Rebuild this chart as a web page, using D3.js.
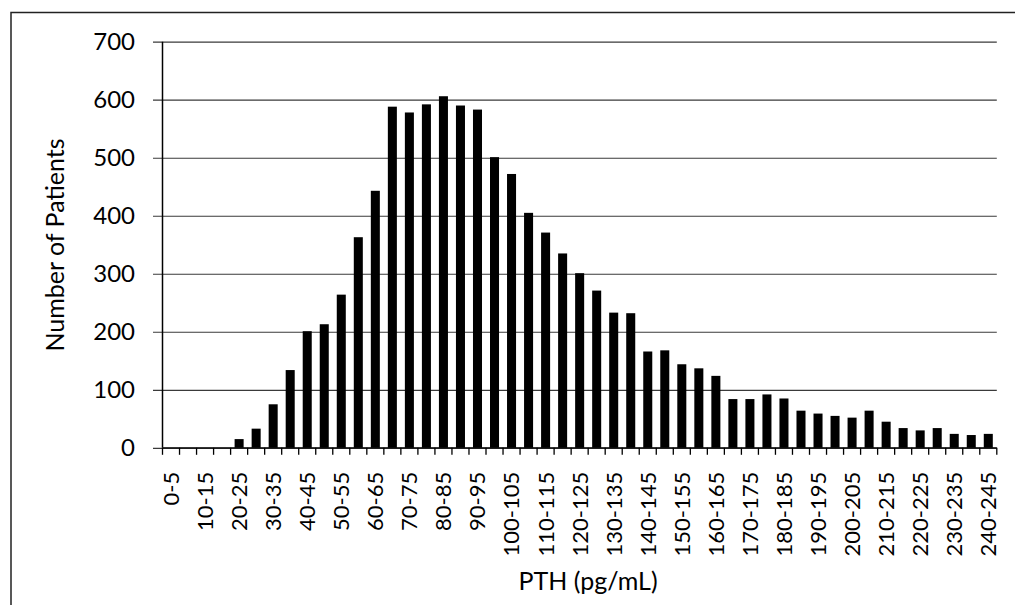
<!DOCTYPE html>
<html>
<head>
<meta charset="utf-8">
<script src="https://cdn.jsdelivr.net/npm/d3@7"></script>
<style>
  html, body { margin: 0; padding: 0; background: #fff; }
  svg { display: block; }
  text { font-family: Lato, "Open Sans", sans-serif; fill: #000; }
</style>
</head>
<body>
<svg id="chart" width="1015" height="605"></svg>
<script>
const categories = ["0-5","5-10","10-15","15-20","20-25","25-30","30-35","35-40","40-45","45-50",
  "50-55","55-60","60-65","65-70","70-75","75-80","80-85","85-90","90-95","95-100",
  "100-105","105-110","110-115","115-120","120-125","125-130","130-135","135-140","140-145","145-150",
  "150-155","155-160","160-165","165-170","170-175","175-180","180-185","185-190","190-195","195-200",
  "200-205","205-210","210-215","215-220","220-225","225-230","230-235","235-240","240-245"];
const patients = [0,0,0,0,15,33,75,134,201,213,
  264,363,443,588,578,592,606,590,583,501,
  472,405,371,335,301,271,233,232,166,168,
  144,137,124,84,84,92,85,64,59,55,
  52,64,45,34,30,34,24,22,24];
const shownLabels = ["0-5","10-15","20-25","30-35","40-45","50-55","60-65","70-75","80-85","90-95",
  "100-105","110-115","120-125","130-135","140-145","150-155","160-165","170-175","180-185","190-195",
  "200-205","210-215","220-225","230-235","240-245"];
const yTicks = [0,100,200,300,400,500,600,700];
const yTitle = "Number of Patients";
const xTitle = "PTH (pg/mL)";

const svg = d3.select("#chart");
const pLeft = 162.5, pRight = 996.8, pTop = 41.7, pBottom = 447.8;

// chart border
svg.append("rect").attr("x", 11).attr("y", 12.5).attr("width", 1100).attr("height", 700)
  .attr("fill", "none").attr("stroke", "#222").attr("stroke-width", 1.5);

const x = d3.scaleBand().domain(categories).range([pLeft, pRight])
  .paddingInner(0.47).paddingOuter(0.235);
const y = d3.scaleLinear().domain([0, 700]).range([pBottom, pTop]);

// gridlines with outward ticks
const yAxis = d3.axisLeft(y).tickValues(yTicks).tickSize(-(pRight - 153)).tickFormat(d => d).tickPadding(0);
const gy = svg.append("g").attr("transform", `translate(153,0)`).call(yAxis);
gy.select(".domain").remove();
gy.selectAll(".tick line").attr("stroke", "#3a3a3a").attr("stroke-width", 1.2)
  .attr("x1", 0).attr("x2", pRight - 153);
gy.selectAll(".tick text").attr("x", -18).attr("font-size", 24).attr("dy", "0.34em")
  .attr("text-anchor", "end").style("font-family", "Lato, sans-serif");

// bars
svg.append("g").selectAll("rect").data(categories).join("rect")
  .attr("x", d => x(d))
  .attr("width", x.bandwidth())
  .attr("y", (d, i) => y(patients[i]))
  .attr("height", (d, i) => y(0) - y(patients[i]))
  .attr("fill", "#000");

// y axis line
svg.append("line").attr("x1", pLeft).attr("x2", pLeft).attr("y1", pTop).attr("y2", pBottom)
  .attr("stroke", "#000").attr("stroke-width", 1.5);
// x axis line
svg.append("line").attr("x1", pLeft).attr("x2", pRight).attr("y1", pBottom).attr("y2", pBottom)
  .attr("stroke", "#000").attr("stroke-width", 1.3);

// x tick marks at category boundaries
const step = x.step();
const boundaries = d3.range(categories.length + 1);
svg.append("g").selectAll("line").data(boundaries).join("line")
  .attr("x1", i => pLeft + i * step).attr("x2", i => pLeft + i * step)
  .attr("y1", pBottom).attr("y2", pBottom + 7)
  .attr("stroke", "#000").attr("stroke-width", 1.3);

// x labels
const xAxis = d3.axisBottom(x).tickValues(shownLabels).tickSize(0).tickPadding(0);
const gx = svg.append("g").attr("transform", `translate(0,${pBottom})`).call(xAxis);
gx.select(".domain").remove();
gx.selectAll(".tick text")
  .attr("transform", "rotate(-90)")
  .attr("x", -24).attr("y", 0).attr("dy", "0.36em")
  .attr("text-anchor", "end")
  .attr("font-size", 22)
  .style("font-family", "Lato, sans-serif");

// titles
svg.append("text").attr("transform", `translate(64,245) rotate(-90)`)
  .attr("text-anchor", "middle").attr("font-size", 25).text(yTitle);
svg.append("text").attr("x", 588).attr("y", 590)
  .attr("text-anchor", "middle").attr("font-size", 25).text(xTitle);
</script>
</body>
</html>
